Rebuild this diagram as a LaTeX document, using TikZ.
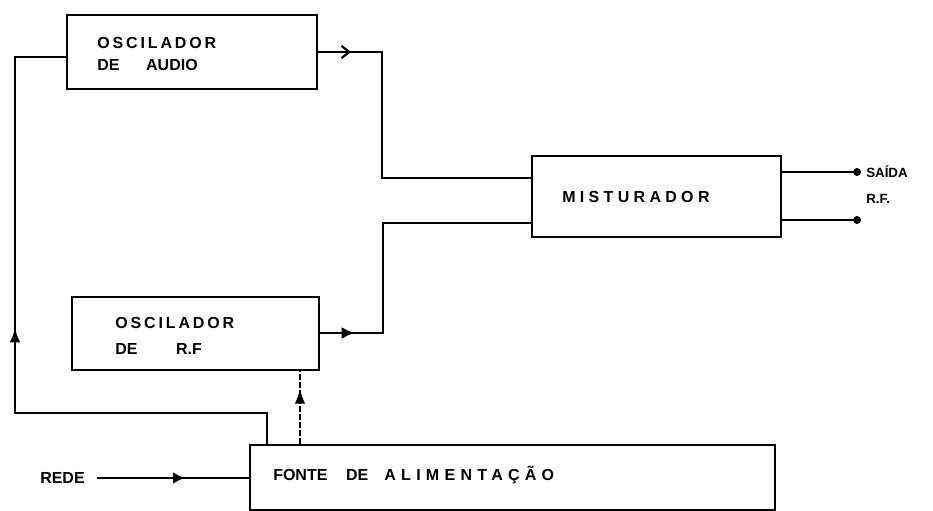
\documentclass[tikz,border=0pt]{standalone}
\usepackage{fontspec}
\setmainfont{Liberation Sans}
\usetikzlibrary{arrows.meta,decorations.markings}
\tikzset{
  box/.style={draw, line width=1.9pt, inner sep=0pt},
  wire/.style={line width=1.9pt},
  txt/.style={inner sep=0pt, anchor=west, font=\fontsize{12}{14}\selectfont\bfseries},
  smalltxt/.style={inner sep=0pt, anchor=west, font=\fontsize{10}{12}\selectfont\bfseries},
  dotnode/.style={circle, fill, inner sep=0pt, minimum size=6pt},
  arrowat/.style 2 args={postaction={decorate}, decoration={markings, mark=at position #1 with {\arrow[solid]{#2}}}}
}
\begin{document}
\begin{tikzpicture}[x=0.75pt,y=-0.75pt]
\useasboundingbox (0,0) rectangle (933,511);
\clip (0,0) rectangle (933,511);
% boxes
\node[box, minimum width=187.5pt, minimum height=55.5pt] (audio) at (192,52) {};
\node[box, minimum width=185.25pt, minimum height=54.75pt] (rf) at (195.5,333.5) {};
\node[box, minimum width=186.75pt, minimum height=60.75pt] (mix) at (656.5,196.5) {};
\node[box, minimum width=393.75pt, minimum height=48.75pt] (fonte) at (512.5,477.5) {};
% texts
\node[txt] (t1) at (97,43) {\addfontfeature{LetterSpace=18}OSCILADOR};
\node[txt] (t2) at (97,65) {DE\hspace{20pt}AUDIO};
\node[txt] (t3) at (115,323) {\addfontfeature{LetterSpace=18}OSCILADOR};
\node[txt] (t4) at (115,349) {DE\hspace{29pt}R.F};
\node[txt] (t5) at (562,197) {\addfontfeature{LetterSpace=27}MISTURADOR};
\node[txt] (t6) at (273,475) {FONTE\hspace{14pt}DE\hspace{12pt}{\addfontfeature{LetterSpace=33}ALIMENTAÇÃO}};
\node[txt] (rede) at (40,478) {REDE};
\node[smalltxt] (t7) at (866,172) {SAÍDA};
\node[smalltxt] (t8) at (866,199) {R.F.};
% coordinates
\coordinate (a1) at (382,52);
\coordinate (a2) at (382,178);
\coordinate (r1) at (383,333);
\coordinate (r2) at (383,223);
\coordinate (fb1) at (267,413);
\coordinate (fb2) at (15,413);
\coordinate (fb3) at (15,57);
\coordinate (d1) at (300,445);
\coordinate (rd) at (97,478);
\node[dotnode] (o1) at (857,172) {};
\node[dotnode] (o2) at (857,220) {};
% connectors
\draw[wire, arrowat={24.75pt}{Straight Barb[length=6pt,width=9pt,line width=1.6pt]}] (audio.east) -- (a1) -- (a2) -- (a2 -| mix.west);
\draw[wire, arrowat={26pt}{Latex[length=10pt,width=9pt]}] (rf.east |- r1) -- (r1) -- (r2) -- (r2 -| mix.west);
\draw[wire] (mix.east |- o1) -- (o1);
\draw[wire] (mix.east |- o2) -- (o2);
\draw[wire, arrowat={276pt}{Latex[length=11pt,width=8pt]}] (fonte.north -| fb1) -- (fb1) -- (fb2) -- (fb3) -- (fb3 -| audio.west);
\draw[line width=1.3pt, dash pattern=on 4pt off 2pt, arrowat={41pt}{Latex[length=11pt,width=8pt]}] (fonte.north -| d1) -- (rf.south -| d1);
\draw[line width=1.9pt, arrowat={66pt}{Latex[length=9pt,width=9pt]}] (rd) -- (fonte.west |- rd);
\end{tikzpicture}
\end{document}
